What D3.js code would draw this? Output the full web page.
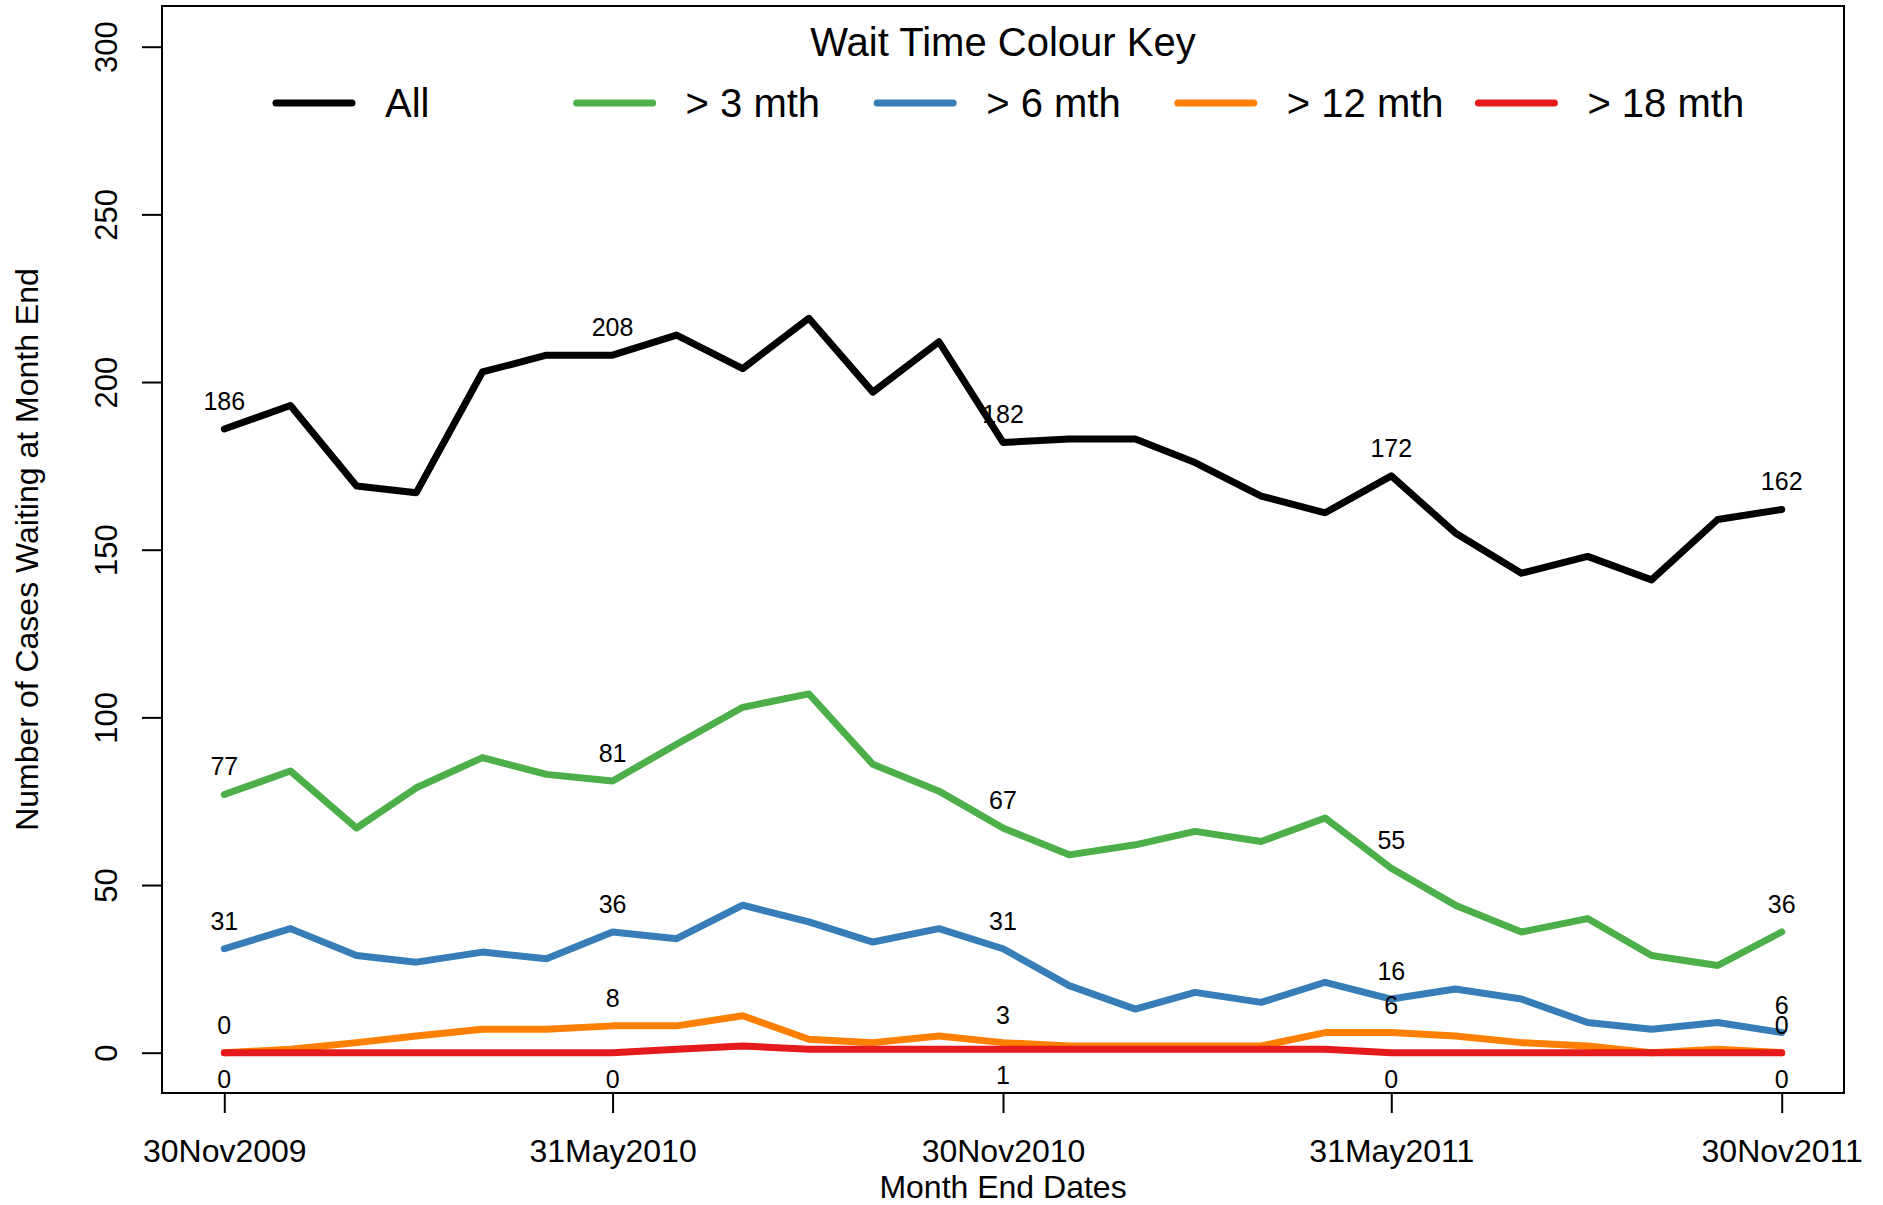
<!DOCTYPE html>
<html>
<head>
<meta charset="utf-8">
<script src="https://cdn.jsdelivr.net/npm/d3@7"></script>
<style>
  body { margin: 0; background: #fff; }
  svg { display: block; font-family: "Liberation Sans", Arial, sans-serif; }
</style>
</head>
<body>
<svg id="chart" width="1883" height="1205"></svg>
<script>
// Month end dates, Nov 2009 - Nov 2011
const monthEnds = [
  "2009-11-30", "2009-12-31", "2010-01-31", "2010-02-28", "2010-03-31", "2010-04-30",
  "2010-05-31", "2010-06-30", "2010-07-31", "2010-08-31", "2010-09-30", "2010-10-31",
  "2010-11-30", "2010-12-31", "2011-01-31", "2011-02-28", "2011-03-31", "2011-04-30",
  "2011-05-31", "2011-06-30", "2011-07-31", "2011-08-31", "2011-09-30", "2011-10-31",
  "2011-11-30"
]

const waitAll = [186, 193, 169, 167, 203, 208, 208, 214, 204, 219, 197, 212, 182, 183, 183, 176, 166, 161, 172, 155, 143, 148, 141, 159, 162]
const wait3 = [77, 84, 67, 79, 88, 83, 81, 92, 103, 107, 86, 78, 67, 59, 62, 66, 63, 70, 55, 44, 36, 40, 29, 26, 36]
const wait6 = [31, 37, 29, 27, 30, 28, 36, 34, 44, 39, 33, 37, 31, 20, 13, 18, 15, 21, 16, 19, 16, 9, 7, 9, 6]
const wait12 = [0, 1, 3, 5, 7, 7, 8, 8, 11, 4, 3, 5, 3, 2, 2, 2, 2, 6, 6, 5, 3, 2, 0, 1, 0]
const wait18 = [0, 0, 0, 0, 0, 0, 0, 1, 2, 1, 1, 1, 1, 1, 1, 1, 1, 1, 0, 0, 0, 0, 0, 0, 0]

const seriesNames = ["All", "> 3 mth", "> 6 mth", "> 12 mth", "> 18 mth"]
const seriesColors = ["#000000", "#4DAF4A", "#377EB8", "#FF7F00", "#E41A1C"]
const labelAt = [0, 6, 12, 18, 24]   // points that get a value label
const yTicks = [0, 50, 100, 150, 200, 250, 300]

const parse = d3.timeParse("%Y-%m-%d")
const dates = monthEnds.map(parse)
const series = [waitAll, wait3, wait6, wait12, wait18]

const svg = d3.select("#chart")

// plot box
const box = { left: 162, right: 1844, top: 6, bottom: 1093 }

// R style 4% range extension on x
const span = dates[dates.length - 1] - dates[0]
const x = d3.scaleTime()
  .domain([new Date(+dates[0] - span * 0.04), new Date(+dates[dates.length - 1] + span * 0.04)])
  .range([box.left, box.right])

const y = d3.scaleLinear()
  .domain([0, 300])
  .range([1052.7, 46.7])

// x axis
const xAxis = svg.append("g")
  .attr("transform", `translate(0,${box.bottom})`)
  .call(d3.axisBottom(x)
    .tickValues(labelAt.map((i) => dates[i]))
    .tickFormat(d3.timeFormat("%d%b%Y"))
    .tickSize(20))
xAxis.select(".domain").remove()
xAxis.selectAll("line").attr("stroke", "#000").attr("stroke-width", 2)
xAxis.selectAll("text")
  .attr("y", 69).attr("dy", 0)
  .attr("fill", "#000")
  .style("font-size", "32px")
  .style("font-family", "'Liberation Sans', Arial, sans-serif")

// y axis
const yAxis = svg.append("g")
  .attr("transform", `translate(${box.left},0)`)
  .call(d3.axisLeft(y).tickValues(yTicks).tickSize(20))
yAxis.select(".domain").remove()
yAxis.selectAll("line").attr("stroke", "#000").attr("stroke-width", 2)
yAxis.selectAll("text")
  .attr("x", 0).attr("dy", 0)
  .attr("transform", "translate(-45,0) rotate(-90)")
  .attr("text-anchor", "middle")
  .attr("fill", "#000")
  .style("font-size", "31px")
  .style("font-family", "'Liberation Sans', Arial, sans-serif")

// box
svg.append("rect")
  .attr("x", box.left).attr("y", box.top)
  .attr("width", box.right - box.left).attr("height", box.bottom - box.top)
  .attr("fill", "none").attr("stroke", "#000").attr("stroke-width", 2)

// axis titles
svg.append("text")
  .attr("x", (box.left + box.right) / 2).attr("y", 1198)
  .attr("text-anchor", "middle").style("font-size", "32px")
  .text("Month End Dates")

svg.append("text")
  .attr("transform", `translate(38,${(box.top + box.bottom) / 2}) rotate(-90)`)
  .attr("text-anchor", "middle").style("font-size", "32px")
  .text("Number of Cases Waiting at Month End")

// lines
const line = d3.line()
  .x((d, i) => x(dates[i]))
  .y((d) => y(d))

series.forEach((s, k) => {
  svg.append("path")
    .datum(s)
    .attr("fill", "none")
    .attr("stroke", seriesColors[k])
    .attr("stroke-width", 7)
    .attr("stroke-linejoin", "round")
    .attr("stroke-linecap", "round")
    .attr("d", line)
})

// value labels: above the point, except the last series which goes below
series.forEach((s, k) => {
  const below = k === series.length - 1
  svg.append("g")
    .selectAll("text")
    .data(labelAt)
    .enter()
    .append("text")
    .attr("x", (i) => x(dates[i]))
    .attr("y", (i) => y(s[i]) + (below ? 35 : -19))
    .attr("text-anchor", "middle")
    .style("font-size", "25px")
    .text((i) => s[i])
})

// legend
const legend = svg.append("g")
legend.append("text")
  .attr("x", 1003).attr("y", 56)
  .attr("text-anchor", "middle")
  .style("font-size", "40px")
  .text("Wait Time Colour Key")

seriesNames.forEach((name, k) => {
  const lx = 276 + k * 300.6
  legend.append("line")
    .attr("x1", lx).attr("x2", lx + 76)
    .attr("y1", 103).attr("y2", 103)
    .attr("stroke", seriesColors[k])
    .attr("stroke-width", 7)
    .attr("stroke-linecap", "round")
  legend.append("text")
    .attr("x", lx + 109).attr("y", 117)
    .style("font-size", "40px")
    .text(name)
})
</script>
</body>
</html>
